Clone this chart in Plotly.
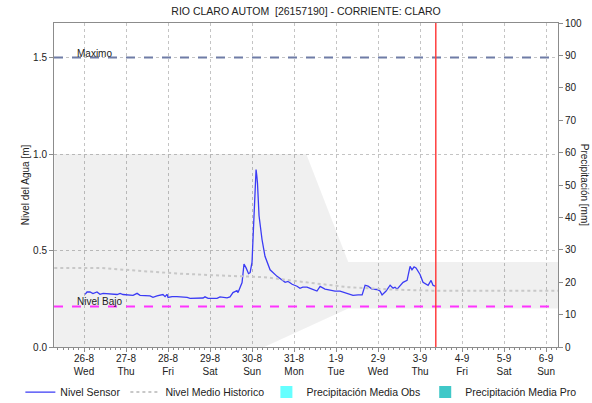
import pandas as pd
import plotly.graph_objects as go

# ---- data -------------------------------------------------------------
START = pd.Timestamp("2020-08-26 00:00")

# river level from the sensor: hours after 26-8 00:00 and level [m]
sensor_hours = [0.6, 1.7, 3.4, 5.1, 7.4, 9.1, 10.9, 18.9, 20.6, 22.3, 28.0, 30.3,
                32.0, 37.7, 39.4, 41.7, 45.1, 46.3, 47.4, 48.0, 50.3, 53.1, 58.9,
                60.6, 68.0, 69.1, 70.9, 76.0, 77.7, 81.7, 83.4, 85.1, 87.4, 88.0,
                90.3, 91.4, 92.6, 94.0, 94.9, 96.0, 96.6, 97.7, 98.3, 98.7, 99.1,
                100.0, 101.7, 103.4, 106.3, 110.3, 113.0, 114.9, 116.6, 118.9,
                121.7, 123.4, 125.0, 127.4, 130.3, 133.1, 134.9, 137.7, 140.6,
                143.4, 146.3, 148.0, 150.9, 153.7, 156.6, 158.9, 160.6, 162.3,
                164.6, 167.4, 169.1, 170.3, 172.6, 174.9, 176.6, 177.7, 178.9,
                180.6, 182.3, 184.6, 185.7, 186.3, 187.4, 188.6, 189.7, 192.0,
                193.7, 195.4, 196.6, 198.3, 199.4, 200.6]
sensor_level = [0.273, 0.285, 0.285, 0.277, 0.285, 0.273, 0.278, 0.272, 0.278, 0.272,
                0.268, 0.278, 0.268, 0.265, 0.257, 0.265, 0.272, 0.261, 0.273, 0.257,
                0.261, 0.261, 0.257, 0.252, 0.254, 0.260, 0.252, 0.252, 0.260, 0.255,
                0.260, 0.282, 0.292, 0.282, 0.334, 0.430, 0.410, 0.380, 0.385, 0.440,
                0.570, 0.810, 0.920, 0.890, 0.850, 0.680, 0.557, 0.470, 0.400, 0.366,
                0.350, 0.335, 0.340, 0.325, 0.315, 0.304, 0.310, 0.310, 0.300, 0.290,
                0.314, 0.300, 0.295, 0.290, 0.290, 0.285, 0.280, 0.268, 0.270, 0.270,
                0.320, 0.315, 0.300, 0.298, 0.290, 0.270, 0.290, 0.320, 0.305, 0.310,
                0.300, 0.320, 0.335, 0.345, 0.400, 0.418, 0.400, 0.415, 0.410, 0.376,
                0.335, 0.325, 0.320, 0.345, 0.320, 0.315]

# historical mean level
hist_dates = ["2020-08-25 07:00", "2020-08-26 09:00", "2020-08-27 07:00",
              "2020-08-28 07:00", "2020-08-29 07:00", "2020-08-30 07:00",
              "2020-08-31 07:00", "2020-09-01 07:00", "2020-09-02 07:00",
              "2020-09-03 07:00", "2020-09-06 07:00"]
hist_level = [0.41, 0.41, 0.395, 0.38, 0.37, 0.362, 0.335, 0.31, 0.298, 0.292, 0.292]

# historical band (min / max envelope)
band_dates = ["2020-08-25 07:00", "2020-08-30 07:00", "2020-08-31 07:00",
              "2020-09-01 07:00", "2020-09-06 07:00"]
band_upper = [1.0, 1.0, 1.0, 0.44, 0.44]
band_lower = [0.0, 0.0, 0.1, 0.2, 0.2]

# daily precipitation [mm]
precip_dates = pd.date_range("2020-08-26", "2020-09-06", freq="D")
precip_obs = [0] * len(precip_dates)
precip_pro = [0] * len(precip_dates)

NIVEL_MAXIMO = 1.5
NIVEL_BAJO = 0.21
NOW = "2020-09-03 09:00"
X_RANGE = ["2020-08-25 06:50", "2020-09-06 06:50"]

sensor_dates = [START + pd.Timedelta(hours=h) for h in sensor_hours]

# ---- figure -----------------------------------------------------------
FONT = "Liberation Sans, Arial, sans-serif"
GRID = "#c4c4c4"
AXIS = "#8c8c8c"

fig = go.Figure()

fig.add_trace(go.Scatter(x=band_dates, y=band_lower, mode="lines",
                         line=dict(width=0), hoverinfo="skip", showlegend=False))
fig.add_trace(go.Scatter(x=band_dates, y=band_upper, mode="lines",
                         line=dict(width=0), fill="tonexty",
                         fillcolor="rgba(0,0,0,0.06)", hoverinfo="skip",
                         showlegend=False))

fig.add_trace(go.Scatter(x=sensor_dates, y=sensor_level, mode="lines",
                         name="Nivel Sensor", legend="legend",
                         line=dict(color="#3b3bf5", width=1.3)))
fig.add_trace(go.Scatter(x=hist_dates, y=hist_level, mode="lines",
                         name="Nivel Medio Historico", legend="legend",
                         line=dict(color="#c8c8c8", width=2, dash="dot")))

fig.add_trace(go.Bar(x=precip_dates, y=precip_obs, yaxis="y2", legend="legend2",
                     name="Precipitación Media Obs", marker_color="#66ffff",
                     marker_line_width=0))
fig.add_trace(go.Bar(x=precip_dates, y=precip_pro, yaxis="y2", legend="legend2",
                     name="Precipitación Media Pro", marker_color="#40c8c8",
                     marker_line_width=0))

# reference levels and current time
fig.add_shape(type="line", xref="paper", x0=0, x1=1, y0=NIVEL_MAXIMO, y1=NIVEL_MAXIMO,
              line=dict(color="#6f7ca6", width=2, dash="dash"))
fig.add_shape(type="line", xref="paper", x0=0, x1=1, y0=NIVEL_BAJO, y1=NIVEL_BAJO,
              line=dict(color="#ff33ff", width=2, dash="dash"))
fig.add_shape(type="line", yref="paper", x0=NOW, x1=NOW, y0=0, y1=1,
              line=dict(color="#ff4040", width=1.5))

fig.add_annotation(xref="paper", x=0.042, y=NIVEL_MAXIMO, yanchor="bottom",
                   xanchor="left", text="Maximo", showarrow=False, yshift=-3,
                   font=dict(size=10, color="#222"))
fig.add_annotation(xref="paper", x=0.042, y=NIVEL_BAJO, yanchor="bottom",
                   xanchor="left", text="Nivel Bajo", showarrow=False, yshift=-3,
                   font=dict(size=10, color="#222"))

# axis titles
fig.add_annotation(xref="paper", yref="paper", x=-0.057, y=0.5, text="Nivel del Agua [m]",
                   textangle=-90, showarrow=False, xanchor="center", yanchor="middle",
                   font=dict(size=10, color="#222"))
fig.add_annotation(xref="paper", yref="paper", x=1.054, y=0.5, text="Precipitación [mm]",
                   textangle=90, showarrow=False, xanchor="center", yanchor="middle",
                   font=dict(size=10, color="#222"))

legend_common = dict(orientation="h", xref="container", yref="container",
                     y=0.027, yanchor="middle", font=dict(size=10.5), itemwidth=30,
                     traceorder="normal", bgcolor="rgba(0,0,0,0)")

fig.update_layout(
    width=592, height=403,
    margin=dict(l=54, r=34, t=23, b=56, autoexpand=False),
    paper_bgcolor="white", plot_bgcolor="white",
    font=dict(family=FONT, size=10, color="#222"),
    title=dict(text="RIO CLARO AUTOM  [26157190] - CORRIENTE: CLARO",
               x=0.517, xanchor="center", y=0.972, yanchor="middle",
               font=dict(size=10.5, color="#222")),
    showlegend=True,
    legend=dict(x=0.455, xanchor="right", **legend_common),
    legend2=dict(x=0.45, xanchor="left", **legend_common),
    bargap=0.3,
    xaxis=dict(
        type="date", range=X_RANGE, tick0="2020-08-26", dtick=86400000,
        tickformat="%-d-%-m<br>%a", showgrid=True, gridcolor=GRID, griddash="dot",
        gridwidth=1, showline=True, linecolor=AXIS, linewidth=1, mirror=True,
        ticks="outside", ticklen=4, tickcolor=AXIS, zeroline=False,
        minor=dict(dtick=3 * 3600000, ticks="outside", ticklen=2, tickcolor=AXIS,
                   showgrid=False),
        tickfont=dict(size=10), ticklabelstandoff=-2,
    ),
    yaxis=dict(
        range=[0, 1.679], tickvals=[0, 0.5, 1.0, 1.5], tickformat=".1f",
        showgrid=True, gridcolor=GRID, griddash="dot", gridwidth=1,
        showline=True, linecolor=AXIS, linewidth=1, ticks="outside", ticklen=4,
        tickcolor=AXIS, zeroline=False, tickfont=dict(size=10),
    ),
    yaxis2=dict(
        overlaying="y", side="right", range=[0, 100], dtick=10,
        showgrid=False, showline=True, linecolor=AXIS, linewidth=1,
        ticks="outside", ticklen=4, tickcolor=AXIS, zeroline=False,
        tickfont=dict(size=10),
    ),
)

fig.write_html("out.html")
